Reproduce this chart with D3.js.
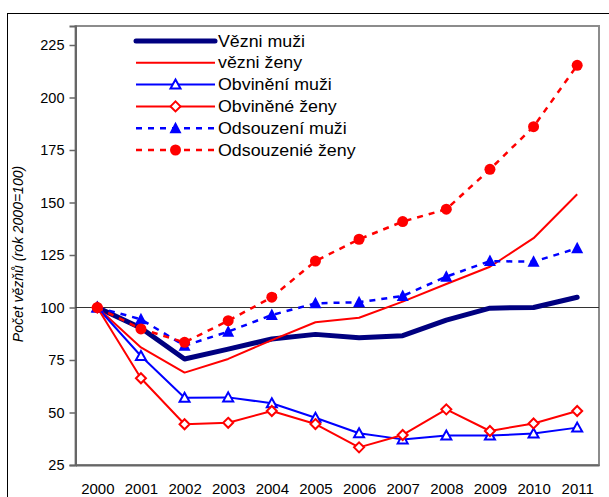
<!DOCTYPE html>
<html>
<head>
<meta charset="utf-8">
<script src="https://cdn.jsdelivr.net/npm/d3@7"></script>
<style>
  body { margin: 0; background: #fff; }
  svg text { font-family: Arial, "Liberation Sans", sans-serif; fill: #000; }
</style>
</head>
<body>
<div id="wrapper"></div>
<script>
const years = ["2000", "2001", "2002", "2003", "2004", "2005", "2006", "2007", "2008", "2009", "2010", "2011"]
const yTicks = [25, 50, 75, 100, 125, 150, 175, 200, 225]

const vezniMuzi = [100, 90.2, 75.5, 80.2, 85, 87.2, 85.6, 86.6, 94, 99.7, 100, 104.9]
const vezniZeny = [100, 81, 69, 75.5, 84.5, 93, 95.1, 102.8, 111.2, 119.4, 133, 153.9]
const obvineniMuzi = [100, 76.9, 57, 57.2, 54.4, 47.5, 40.1, 37.2, 39, 39, 40, 42.8]
const obvineneZeny = [100, 66.3, 44.4, 45.1, 50.7, 44.5, 33.4, 39.3, 51.5, 41.2, 44.8, 50.7]
const odsouzeniMuzi = [100, 94.4, 81.8, 88.5, 96.4, 102, 102.5, 105.5, 114.7, 122.1, 121.8, 128.2]
const odsouzeneZeny = [100, 89.8, 83.4, 93.7, 104.9, 122.1, 132.5, 140.9, 146.8, 165.8, 186.1, 215.3]

const seriesNames = ["Vězni muži", "vězni ženy", "Obvinění muži", "Obviněné ženy", "Odsouzení muži", "Odsouzenié ženy"]

const series = [
  { name: seriesNames[0], values: vezniMuzi, color: "#000080", width: 5, dash: null, marker: null },
  { name: seriesNames[1], values: vezniZeny, color: "#ff0000", width: 2, dash: null, marker: null },
  { name: seriesNames[2], values: obvineniMuzi, color: "#0000ff", width: 2, dash: null, marker: "triOpen" },
  { name: seriesNames[3], values: obvineneZeny, color: "#ff0000", width: 2, dash: null, marker: "diaOpen" },
  { name: seriesNames[4], values: odsouzeniMuzi, color: "#0000ff", width: 2.5, dash: "6,6", marker: "triFill" },
  { name: seriesNames[5], values: odsouzeneZeny, color: "#ff0000", width: 2.5, dash: "6,6", marker: "circFill" },
]

const width = 609
const height = 497
const plot = { left: 75.5, right: 599, top: 26, bottom: 465 }

const svg = d3.select("#wrapper")
  .append("svg")
  .attr("width", width)
  .attr("height", height)

// outer chart border (runs off the picture on right and bottom)
svg.append("rect")
  .attr("x", 7.5)
  .attr("y", 13.5)
  .attr("width", 700)
  .attr("height", 600)
  .attr("fill", "none")
  .attr("stroke", "#000")

const x = d3.scalePoint()
  .domain(years)
  .range([plot.left, plot.right])
  .padding(0.5)

const y = d3.scaleLinear()
  .domain([25, 25 + (plot.bottom - plot.top) / 2.1])
  .range([plot.bottom, plot.top])

// plot area frame
svg.append("rect")
  .attr("x", plot.left)
  .attr("y", plot.top)
  .attr("width", plot.right - plot.left)
  .attr("height", plot.bottom - plot.top)
  .attr("fill", "none")
  .attr("stroke", "#8c8c8c")
  .attr("stroke-width", 2)

// y axis
const yAxis = svg.append("g")
  .attr("transform", `translate(${plot.left},0)`)
  .call(d3.axisLeft(y).tickValues(yTicks).tickSize(6).tickPadding(5))
yAxis.select(".domain").attr("stroke", "#666").attr("stroke-width", 2)
yAxis.selectAll(".tick line").attr("stroke", "#666").attr("stroke-width", 1.5)
yAxis.selectAll(".tick text")
  .attr("font-size", 14.5)
  .attr("fill", "#000")
  .style("font-family", "Arial, 'Liberation Sans', sans-serif")

// x axis labels
const xAxis = svg.append("g")
  .attr("transform", `translate(0,${plot.bottom})`)
  .call(d3.axisBottom(x).tickSize(0).tickPadding(18))
xAxis.select(".domain").attr("stroke", "#666").attr("stroke-width", 2)
xAxis.selectAll(".tick text")
  .attr("font-size", 15)
  .attr("fill", "#000")
  .style("font-family", "Arial, 'Liberation Sans', sans-serif")

// reference line at 100
svg.append("line")
  .attr("x1", plot.left)
  .attr("x2", plot.right)
  .attr("y1", y(100))
  .attr("y2", y(100))
  .attr("stroke", "#333")
  .attr("stroke-width", 1)

// y axis title
svg.append("text")
  .attr("transform", `translate(23,254) rotate(-90)`)
  .attr("text-anchor", "middle")
  .attr("font-size", 14)
  .attr("font-style", "italic")
  .text("Počet vězňů (rok 2000=100)")

const line = d3.line()
  .x((d, i) => x(years[i]))
  .y(d => y(d))

function drawMarker(g, type, color, cx, cy) {
  if (type === "triOpen") {
    g.append("path")
      .attr("d", `M${cx},${cy - 5}L${cx + 5},${cy + 4}L${cx - 5},${cy + 4}Z`)
      .attr("fill", "#fff").attr("stroke", color).attr("stroke-width", 2)
  } else if (type === "diaOpen") {
    g.append("path")
      .attr("d", `M${cx},${cy - 5}L${cx + 5},${cy}L${cx},${cy + 5}L${cx - 5},${cy}Z`)
      .attr("fill", "#fff").attr("stroke", color).attr("stroke-width", 2)
  } else if (type === "triFill") {
    g.append("path")
      .attr("d", `M${cx},${cy - 6.5}L${cx + 6},${cy + 5}L${cx - 6},${cy + 5}Z`)
      .attr("fill", color)
  } else if (type === "circFill") {
    g.append("circle")
      .attr("cx", cx).attr("cy", cy).attr("r", 5.5)
      .attr("fill", color)
  }
}

series.forEach(s => {
  const g = svg.append("g")
  g.append("path")
    .datum(s.values)
    .attr("d", line)
    .attr("fill", "none")
    .attr("stroke", s.color)
    .attr("stroke-width", s.width)
    .attr("stroke-dasharray", s.dash)
    .attr("stroke-linejoin", "round")
    .attr("stroke-linecap", s.width > 3 ? "round" : "butt")
  if (s.marker) {
    s.values.forEach((v, i) => drawMarker(g, s.marker, s.color, x(years[i]), y(v)))
  }
})

// legend
const legend = svg.append("g")
  .attr("transform", "translate(136,41)")
series.forEach((s, i) => {
  const row = legend.append("g")
    .attr("transform", `translate(0,${i * 21.8})`)
  row.append("line")
    .attr("x1", 0)
    .attr("x2", 79)
    .attr("stroke", s.color)
    .attr("stroke-width", s.width)
    .attr("stroke-dasharray", s.dash)
    .attr("stroke-linecap", s.width > 3 ? "round" : "butt")
  if (s.marker) drawMarker(row, s.marker, s.color, 39.5, 0)
  row.append("text")
    .attr("transform", "translate(82,5.5) scale(1.08,1)")
    .attr("font-size", 16.5)
    .text(s.name)
})
</script>
</body>
</html>
